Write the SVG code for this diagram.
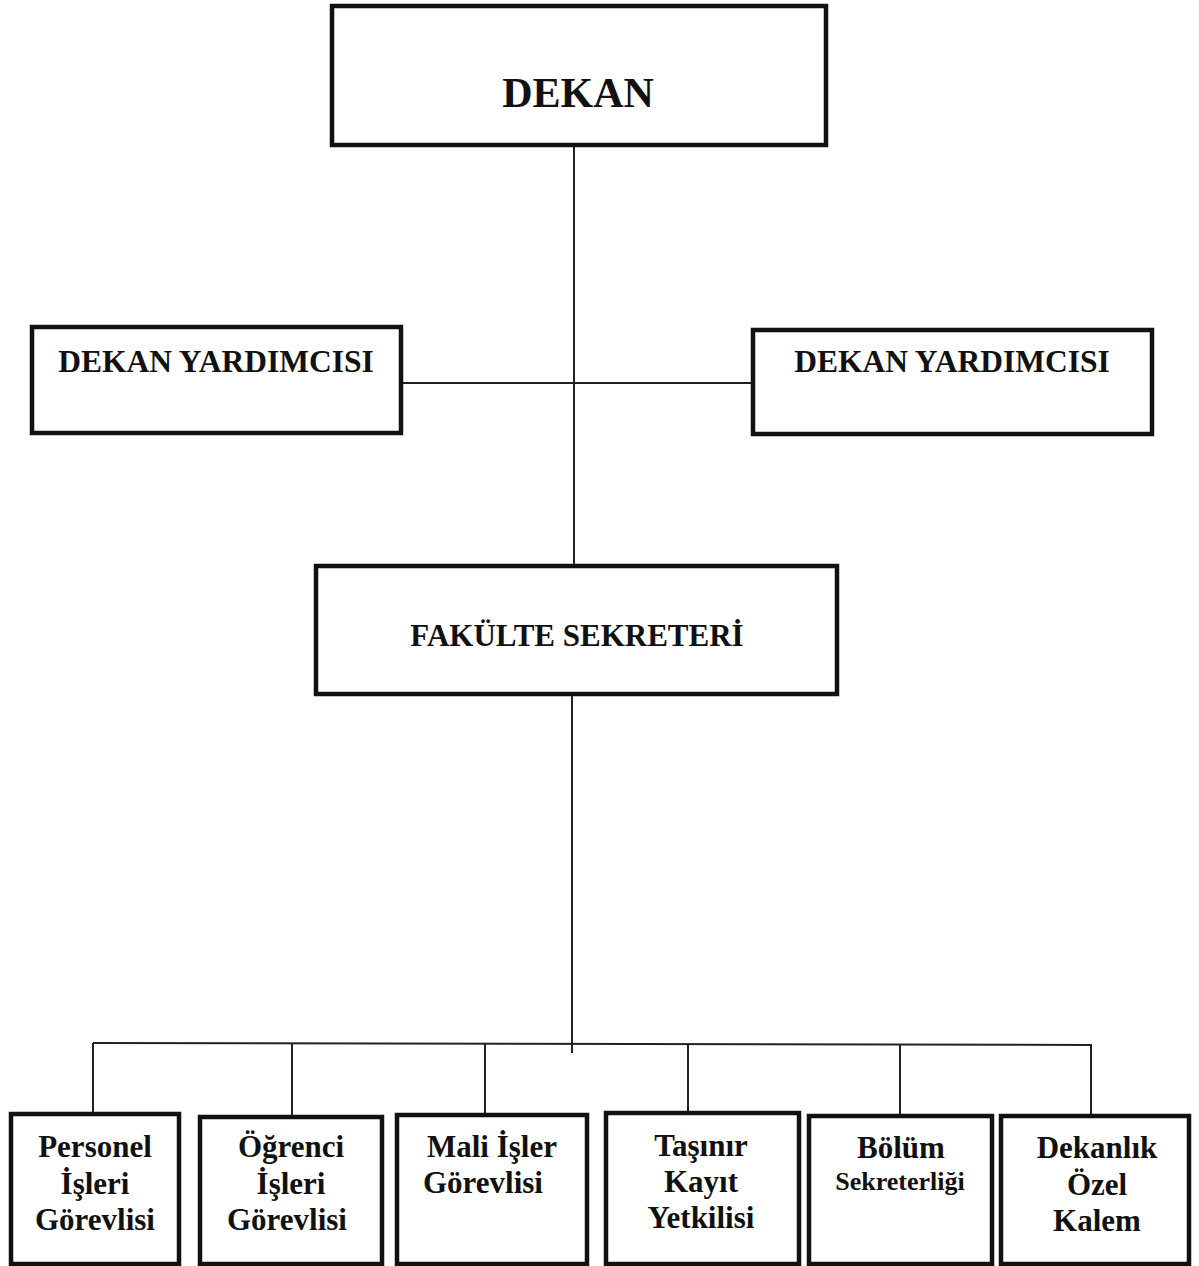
<svg xmlns="http://www.w3.org/2000/svg" width="1199" height="1266" viewBox="0 0 1199 1266">
<style>
.box{fill:#fff;stroke:#111;stroke-width:4.5}
.ln{stroke:#222;stroke-width:2;fill:none}
text{font-family:"Liberation Serif","Times New Roman",serif;font-weight:bold;fill:#111;text-anchor:middle}
.t31{font-size:31px}
.t32{font-size:31.5px}
.t42{font-size:42px}
.t25{font-size:26px}
</style>
<rect width="1199" height="1266" fill="#fff"/>
<g id="connectors">
<line class="ln" x1="574" y1="145" x2="574" y2="566"/>
<line class="ln" x1="401" y1="383" x2="752" y2="383"/>
<line class="ln" x1="572" y1="693" x2="572" y2="1053"/>
<line class="ln" x1="93" y1="1043" x2="1092" y2="1045"/>
<line class="ln" x1="93" y1="1043" x2="93" y2="1113"/>
<line class="ln" x1="292" y1="1043" x2="292" y2="1115"/>
<line class="ln" x1="485" y1="1044" x2="485" y2="1114"/>
<line class="ln" x1="688" y1="1044" x2="688" y2="1112"/>
<line class="ln" x1="900" y1="1044" x2="900" y2="1115"/>
<line class="ln" x1="1091" y1="1045" x2="1091" y2="1115"/>
</g>
<g id="dekan">
<rect class="box" x="332" y="6" width="494" height="139"/>
<text class="t42" x="578" y="107">DEKAN</text>
</g>
<g id="dekan-yardimcisi-1">
<rect class="box" x="32" y="327" width="369" height="106"/>
<text class="t32" x="216" y="372">DEKAN YARDIMCISI</text>
</g>
<g id="dekan-yardimcisi-2">
<rect class="box" x="753" y="330" width="399" height="104"/>
<text class="t32" x="952" y="372">DEKAN YARDIMCISI</text>
</g>
<g id="fakulte-sekreteri">
<rect class="box" x="316" y="566" width="521" height="128"/>
<text class="t31" x="577" y="646">FAKÜLTE SEKRETERİ</text>
</g>
<g id="personel">
<rect class="box" x="11" y="1114" width="168" height="150"/>
<text class="t31" x="95" y="1157">Personel</text>
<text class="t31" x="95" y="1194">İşleri</text>
<text class="t31" x="95" y="1230">Görevlisi</text>
</g>
<g id="ogrenci">
<rect class="box" x="200" y="1117" width="182" height="147"/>
<text class="t31" x="291" y="1157">Öğrenci</text>
<text class="t31" x="291" y="1194">İşleri</text>
<text class="t31" x="287" y="1230">Görevlisi</text>
</g>
<g id="mali-isler">
<rect class="box" x="397" y="1115" width="190" height="149"/>
<text class="t31" x="492" y="1157">Mali İşler</text>
<text class="t31" x="483" y="1193">Görevlisi</text>
</g>
<g id="tasinir">
<rect class="box" x="606" y="1113" width="193" height="151"/>
<text class="t31" x="701" y="1156">Taşınır</text>
<text class="t31" x="701" y="1192">Kayıt</text>
<text class="t31" x="701" y="1228">Yetkilisi</text>
</g>
<g id="bolum">
<rect class="box" x="809" y="1116" width="183" height="148"/>
<text class="t31" x="901" y="1158">Bölüm</text>
<text class="t25" x="900" y="1190">Sekreterliği</text>
</g>
<g id="dekanlik">
<rect class="box" x="1001" y="1116" width="188" height="148"/>
<text class="t31" x="1097" y="1158">Dekanlık</text>
<text class="t31" x="1097" y="1195">Özel</text>
<text class="t31" x="1097" y="1231">Kalem</text>
</g>
</svg>
